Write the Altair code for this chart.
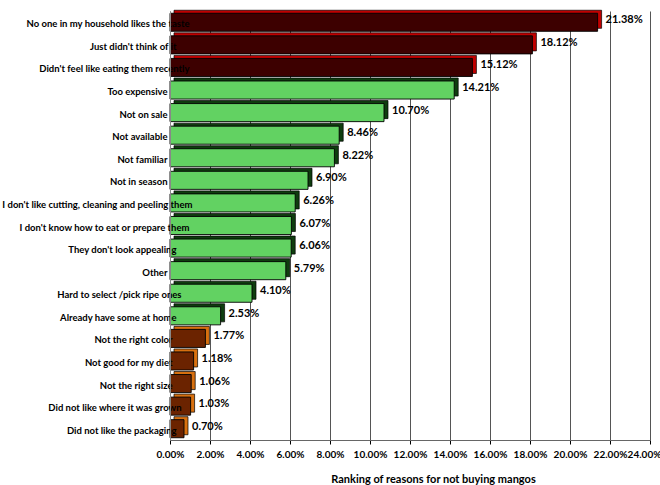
import altair as alt
import pandas as pd

categories = [
    "No one in my household likes the taste",
    "Just didn't think of it",
    "Didn't feel like eating them recently",
    "Too expensive",
    "Not on sale",
    "Not available",
    "Not familiar",
    "Not in season",
    "I don't like cutting, cleaning and peeling them",
    "I don't know how to eat or prepare them",
    "They don't look appealing",
    "Other",
    "Hard to select /pick ripe ones",
    "Already have some at home",
    "Not the right color",
    "Not good for my diet",
    "Not the right size",
    "Did not like where it was grown",
    "Did not like the packaging",
]
shares = [21.38, 18.12, 15.12, 14.21, 10.70, 8.46, 8.22, 6.90, 6.26, 6.07,
          6.06, 5.79, 4.10, 2.53, 1.77, 1.18, 1.06, 1.03, 0.70]
groups = ["top"] * 3 + ["mid"] * 11 + ["low"] * 5
x_ticks = [0.00, 0.02, 0.04, 0.06, 0.08, 0.10, 0.12, 0.14, 0.16, 0.18, 0.20, 0.22, 0.24]

group_domain = ["top", "mid", "low"]
face_colors = ["#3d0000", "#62d262", "#6b2300"]
side_colors = ["#c00000", "#0f3d0f", "#d8700f"]

df = pd.DataFrame({
    "reason": categories,
    "share": [v / 100 for v in shares],
    "group": groups,
})

FONT = "Lato"

y_enc = alt.Y(
    "reason:N",
    sort=categories,
    scale=alt.Scale(paddingInner=0.2, paddingOuter=0.1),
    axis=alt.Axis(
        title=None,
        ticks=False,
        domain=True,
        domainColor="#888888",
        labelFont=FONT,
        labelFontWeight="bold",
        labelFontSize=9.5,
        labelColor="black",
        labelLimit=400,
        labelOffset=2,
        zindex=1,
        labelPadding={
            "condition": [
                {"test": "length(datum.label) <= 14", "value": 3},
                {"test": "length(datum.label) <= 20", "value": -2},
                {"test": "length(datum.label) <= 26", "value": -6},
                {"test": "length(datum.label) <= 32", "value": -11},
                {"test": "length(datum.label) <= 40", "value": -19},
            ],
            "value": -22,
        },
    ),
)

x_enc = alt.X(
    "share:Q",
    scale=alt.Scale(domain=[0, 0.24], nice=False),
    axis=alt.Axis(
        values=x_ticks,
        tickCount=13,
        format=".2%",
        title="Ranking of reasons for not buying mangos",
        titleFont=FONT,
        titleFontWeight="bold",
        titleFontSize=11,
        titleColor="black",
        titleX=263,
        titleY=33,
        labelFont=FONT,
        labelFontWeight="bold",
        labelFontSize=10,
        labelColor="black",
        labelPadding=5,
        labelFlush=False,
        labelOverlap=False,
        labelSeparation=0,
        labelBound=False,
        labelOffset={"condition": {"test": "datum.value >= 0.239", "value": -6}, "value": 0},
        tickSize=4,
        tickColor="black",
        domainColor="#666666",
        grid=True,
        gridColor="#555555",
        gridWidth=1,
    ),
)

back = alt.Chart(df).mark_bar(
    xOffset=4, x2Offset=4, yOffset=-3, y2Offset=-3,
    stroke="black", strokeWidth=0.7,
).encode(
    x=x_enc,
    y=y_enc,
    color=alt.Color("group:N", scale=alt.Scale(domain=group_domain, range=side_colors), legend=None),
)

front = alt.Chart(df).mark_bar(stroke="black", strokeWidth=0.9).encode(
    x=x_enc,
    y=y_enc,
    fill=alt.Fill("group:N", scale=alt.Scale(domain=group_domain, range=face_colors), legend=None),
)

labels = alt.Chart(df).mark_text(
    align="left", baseline="middle", dx=8, dy=-2,
    font=FONT, fontWeight="bold", fontSize=11, color="black",
).encode(
    x=x_enc,
    y=y_enc,
    text=alt.Text("share:Q", format=".2%"),
)

chart = alt.layer(back, front, labels).resolve_scale(
    color="independent", fill="independent"
).properties(
    width=480,
    height=429,
    padding={"left": 170, "top": 11, "right": 10, "bottom": 45},
    autosize=alt.AutoSizeParams(type="none"),
    background="white",
).configure_view(stroke=None)

chart.save("out.html", embed_options={"renderer": "svg", "actions": False})
